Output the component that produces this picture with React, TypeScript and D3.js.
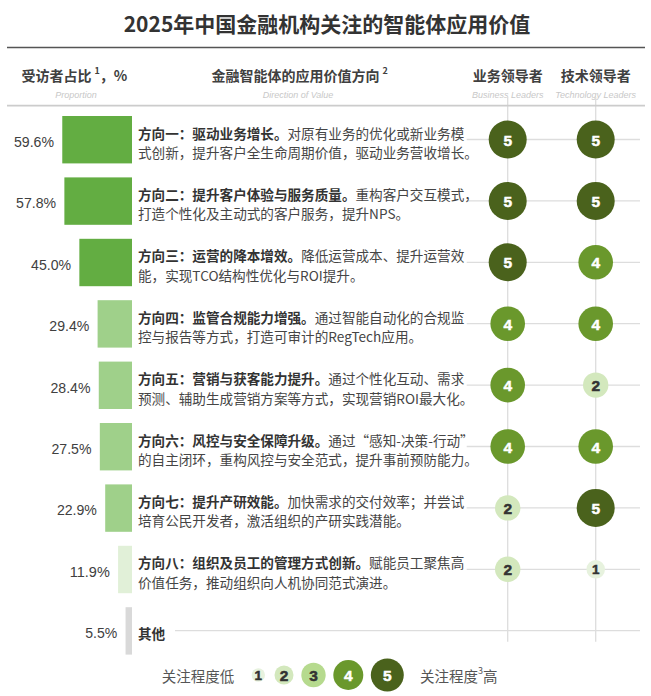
import React from 'react';
import * as d3 from 'd3';

const proportions = [59.6, 57.8, 45.0, 29.4, 28.4, 27.5, 22.9, 11.9, 5.5];
const boldParts = [
  '方向一：驱动业务增长。',
  '方向二：提升客户体验与服务质量。',
  '方向三：运营的降本增效。',
  '方向四：监管合规能力增强。',
  '方向五：营销与获客能力提升。',
  '方向六：风控与安全保障升级。',
  '方向七：提升产研效能。',
  '方向八：组织及员工的管理方式创新。',
  '其他',
];
const firstLineRest = [
  '对原有业务的优化或新业务模',
  '重构客户交互模式，',
  '降低运营成本、提升运营效',
  '通过智能自动化的合规监',
  '通过个性化互动、需求',
  '通过“感知-决策-行动”',
  '加快需求的交付效率；并尝试',
  '赋能员工聚焦高',
  '',
];
const secondLines = [
  '式创新，提升客户全生命周期价值，驱动业务营收增长。',
  '打造个性化及主动式的客户服务，提升NPS。',
  '能，实现TCO结构性优化与ROI提升。',
  '控与报告等方式，打造可审计的RegTech应用。',
  '预测、辅助生成营销方案等方式，实现营销ROI最大化。',
  '的自主闭环，重构风控与安全范式，提升事前预防能力。',
  '培育公民开发者，激活组织的产研实践潜能。',
  '价值任务，推动组织向人机协同范式演进。',
  '',
];
const businessScores = [5, 5, 5, 4, 4, 4, 2, 2];
const techScores = [5, 5, 4, 4, 2, 4, 5, 1];
const levels = [1, 2, 3, 4, 5];

const W = 651;
const H = 696;
const CJK = '"Noto Sans CJK SC", "Noto Sans", sans-serif';
const LATIN = '"Liberation Sans", Arial, sans-serif';

const levelColor = d3.scaleOrdinal<number, string>()
  .domain(levels)
  .range(['#e7f2de', '#d3e8bd', '#b6da8e', '#6a982c', '#4a621c']);
const levelRadius = d3.scaleOrdinal<number, number>()
  .domain(levels)
  .range([9.3, 12.7, 15, 17.3, 19]);
const legendRadius = d3.scaleOrdinal<number, number>()
  .domain(levels)
  .range([6.7, 9.5, 12.2, 15, 16.5]);

const barColor = (i: number) =>
  i < 3 ? '#63ad42' : i < 7 ? '#9fd08a' : i < 8 ? '#e1f0d8' : '#d9d9d9';

const App: React.FC = () => {
  const rows = d3.range(proportions.length);
  const y = d3.scalePoint<number>().domain(rows).range([139.5, 630.7]);
  const barW = d3.scaleLinear().domain([0, 100]).range([0, 117]);
  const barRight = 132;
  const barH = 47.4;
  const colX = d3.scalePoint<string>().domain(['biz', 'tech']).range([507.7, 595.7]);
  // legend circles are not evenly spaced in the reference
  const legendPos = [258.3, 284, 313.5, 348.3, 387.3];

  const circle = (key: string, cx: number, cy: number, v: number, r: number) => (
    <g key={key}>
      <circle cx={cx} cy={cy} r={r} fill={levelColor(v)} />
      <text
        x={cx}
        y={cy + 0.5}
        textAnchor="middle"
        dominantBaseline="central"
        fontFamily={LATIN}
        fontWeight="bold"
        fontSize={v === 1 ? 13.5 : 15.5}
        stroke={v >= 4 ? '#ffffff' : '#333333'}
        strokeWidth={0.5}
        fill={v >= 4 ? '#ffffff' : '#333333'}
      >
        {v}
      </text>
    </g>
  );

  return (
    <div style={{ position: 'absolute', left: 0, top: 0 }}>
      <svg width={W} height={H} style={{ display: 'block', background: '#fff' }}>
        <text x={327} y={23} textAnchor="middle" dominantBaseline="central"
          fontFamily={CJK} fontWeight="bold" fontSize={21} fill="#333">
          2025年中国金融机构关注的智能体应用价值
        </text>
        <line x1={7} x2={645} y1={47.5} y2={47.5} stroke="#555" strokeWidth={1.6} />

        {/* headers */}
        <g fontFamily={CJK} fontWeight="bold" fontSize={14} fill="#404040">
          <text x={21.5} y={75} dominantBaseline="central">
            受访者占比<tspan fontSize={9} dy={-5} dx={3}>1</tspan>
            <tspan dy={5}>，%</tspan>
          </text>
          <text x={211.5} y={75} dominantBaseline="central">
            金融智能体的应用价值方向<tspan fontSize={9} dy={-5} dx={3}>2</tspan>
          </text>
          <text x={colX('biz')} y={75} textAnchor="middle" dominantBaseline="central">业务领导者</text>
          <text x={colX('tech')} y={75} textAnchor="middle" dominantBaseline="central">技术领导者</text>
        </g>
        <g fontFamily={LATIN} fontStyle="italic" fontSize={9} fill="#c8c8c8" textAnchor="middle">
          <text x={76} y={98}>Proportion</text>
          <text x={298} y={98}>Direction of Value</text>
          <text x={colX('biz')} y={98}>Business Leaders</text>
          <text x={colX('tech')} y={98}>Technology Leaders</text>
        </g>

        {/* grid */}
        {['biz', 'tech'].map((c) => (
          <line key={c} x1={colX(c)} x2={colX(c)} y1={97} y2={641.7} stroke="#dddddd" strokeWidth={1.3} />
        ))}
        {rows.map((i) => (
          <line key={'g' + i} x1={i === 8 ? 175 : 466.7} x2={640} y1={y(i)} y2={y(i)}
            stroke="#dddddd" strokeWidth={1.3} />
        ))}
        <line x1={7} x2={645} y1={105.7} y2={105.7} stroke="#cccccc" strokeWidth={1.8} />

        {/* bars and labels */}
        {rows.map((i) => {
          const cy = y(i) as number;
          const w = barW(proportions[i]);
          return (
            <g key={'b' + i}>
              <rect x={barRight - w} y={cy - barH / 2 + 0.2} width={w} height={barH} fill={barColor(i)} />
              <text x={barRight - w - 8.3} y={cy + 2.5} textAnchor="end" dominantBaseline="central"
                fontFamily={LATIN} fontSize={14} fill="#404040"
                textLength={proportions[i] < 10 ? 32 : 40} lengthAdjust="spacingAndGlyphs">
                {proportions[i].toFixed(1)}%
              </text>
              {secondLines[i] ? (
                <g fontFamily={CJK} fontSize={13.6} fill="#454545">
                  <text x={138} y={cy - 7} dominantBaseline="central">
                    <tspan fontWeight="bold" fill="#333">{boldParts[i]}</tspan>
                    <tspan>{firstLineRest[i]}</tspan>
                  </text>
                  <text x={138} y={cy + 12.5} dominantBaseline="central">{secondLines[i]}</text>
                </g>
              ) : (
                <text x={138} y={cy + 2} dominantBaseline="central" fontFamily={CJK}
                  fontSize={13.6} fontWeight="bold" fill="#333">{boldParts[i]}</text>
              )}
            </g>
          );
        })}

        {/* score circles */}
        {businessScores.map((v, i) => circle('bz' + i, colX('biz') as number, y(i) as number, v, levelRadius(v)))}
        {techScores.map((v, i) => circle('tc' + i, colX('tech') as number, y(i) as number, v, levelRadius(v)))}

        {/* legend */}
        <g fontFamily={CJK} fontSize={14.5} fill="#555">
          <text x={161.7} y={675} dominantBaseline="central">关注程度低</text>
          <text x={420} y={675} dominantBaseline="central">
            关注程度<tspan fontSize={9} dy={-5}>3</tspan><tspan dy={5}>高</tspan>
          </text>
        </g>
        {levels.map((v, k) => circle('lg' + v, legendPos[k], 675, v, legendRadius(v)))}
      </svg>
    </div>
  );
};

export default App;
